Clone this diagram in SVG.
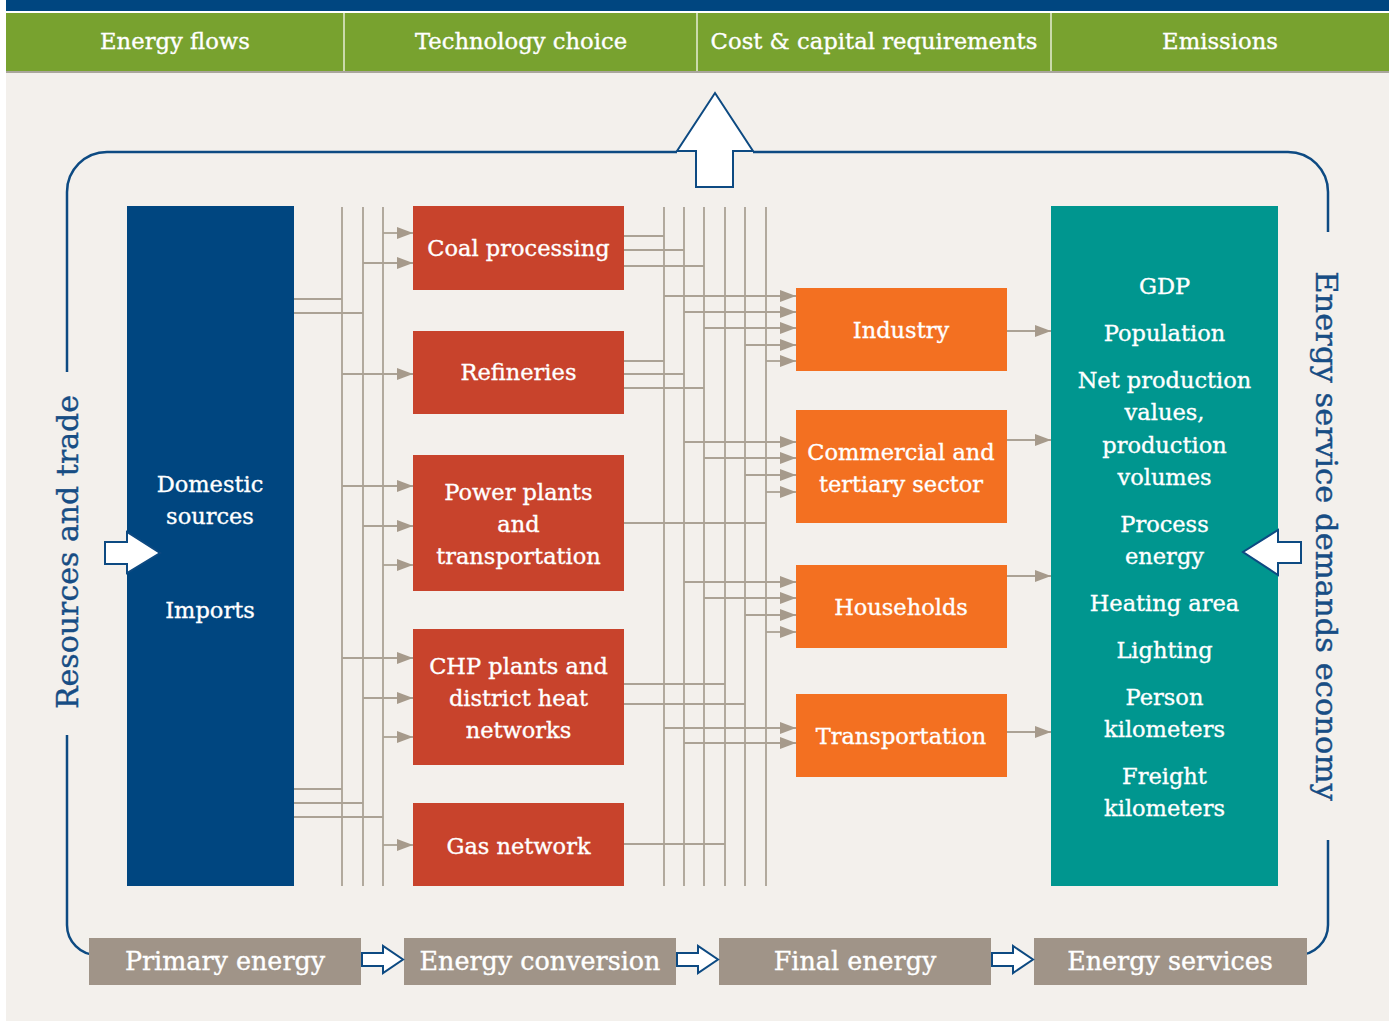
<svg xmlns="http://www.w3.org/2000/svg" width="1395" height="1021" viewBox="0 0 1395 1021">
  <style>
    .t { font-family: "DejaVu Serif", "Liberation Serif", serif; fill: #ffffff; stroke: #ffffff; stroke-width: 0.35; text-anchor: middle; }
    .hd { font-size: 22.7px; }
    .nd { font-size: 22.5px; }
    .ft { font-size: 25.4px; }
    .side { font-family: "DejaVu Serif", "Liberation Serif", serif; fill: #174d84; stroke: #174d84; stroke-width: 0.4; font-size: 30px; text-anchor: middle; }
    .bus { stroke: #aba295; stroke-width: 1.8; fill: none; }
    .arr { stroke: #aba295; stroke-width: 1.8; fill: none; marker-end: url(#head); }
    .frame { stroke: #0d4a82; stroke-width: 2.5; fill: none; }
    .wa { fill: #ffffff; stroke: #0d4a82; stroke-width: 2; stroke-linejoin: miter; }
  </style>
  <defs>
    <marker id="head" markerUnits="userSpaceOnUse" markerWidth="16" markerHeight="12" refX="16" refY="6" orient="auto">
      <path d="M0,0 L16,6 L0,12 Z" fill="#a69a8b"/>
    </marker>
  </defs>

  <!-- page -->
  <rect x="0" y="0" width="1395" height="1021" fill="#ffffff"/>
  <rect x="6" y="72" width="1383" height="949" fill="#f3f0ec"/>

  <!-- header bar -->
  <g id="header">
    <rect x="6" y="0" width="1383" height="11" fill="#004680"/>
    <rect x="6" y="13" width="1383" height="59" fill="#78a22f"/>
    <rect x="6" y="71" width="1383" height="2" fill="#a9a69c"/>
    <g stroke="#e6ecd6" stroke-width="1.5">
      <line x1="344" y1="13" x2="344" y2="71"/>
      <line x1="697" y1="13" x2="697" y2="71"/>
      <line x1="1051" y1="13" x2="1051" y2="71"/>
    </g>
    <text class="t hd" x="175" y="49">Energy flows</text>
    <text class="t hd" x="521" y="49">Technology choice</text>
    <text class="t hd" x="874" y="49">Cost &amp; capital requirements</text>
    <text class="t hd" x="1220" y="49">Emissions</text>
  </g>

  <!-- surrounding frame -->
  <g id="frame">
    <path class="frame" d="M67,372 V192 A40,40 0 0 1 107,152 H677"/>
    <path class="frame" d="M753,152 H1288 A40,40 0 0 1 1328,192 V232"/>
    <path class="frame" d="M1328,840 V925 A30,30 0 0 1 1298,955 H1307"/>
    <path class="frame" d="M67,735 V925 A30,30 0 0 0 97,955 H90"/>
    <polygon class="wa" points="715,93 753,151 733,151 733,187 696,187 696,151 677,151"/>
    <text class="side" transform="translate(78,552) rotate(-90)">Resources and trade</text>
    <text class="side" transform="translate(1316,536) rotate(90)" style="font-size:30.6px">Energy service demands economy</text>
  </g>

  <!-- connectors -->
  <g id="connectors">
    <!-- primary bus -->
    <path class="bus" d="M342,207 V886 M363,207 V886 M383,207 V886"/>
    <path class="bus" d="M294,299 H342 M294,313 H363 M294,789 H342 M294,803 H363 M294,817 H383"/>
    <path class="arr" d="M383,233 H413"/>
    <path class="arr" d="M363,263 H413"/>
    <path class="arr" d="M342,374 H413"/>
    <path class="arr" d="M342,486 H413"/>
    <path class="arr" d="M363,526 H413"/>
    <path class="arr" d="M383,565 H413"/>
    <path class="arr" d="M342,658 H413"/>
    <path class="arr" d="M363,698 H413"/>
    <path class="arr" d="M383,737 H413"/>
    <path class="arr" d="M383,845 H413"/>
    <!-- final energy bus -->
    <path class="bus" d="M664,207 V886 M684,207 V886 M704,207 V886 M725,207 V886 M745,207 V886 M766,207 V886"/>
    <path class="bus" d="M624,236 H664 M624,250 H684 M624,266 H704 M624,361 H664 M624,374 H684 M624,388 H704 M624,523 H766 M624,684 H725 M624,704 H745 M624,844 H725"/>
    <path class="arr" d="M664,296 H796"/>
    <path class="arr" d="M684,312 H796"/>
    <path class="arr" d="M704,328 H796"/>
    <path class="arr" d="M745,345 H796"/>
    <path class="arr" d="M766,361 H796"/>
    <path class="arr" d="M684,442 H796"/>
    <path class="arr" d="M704,458 H796"/>
    <path class="arr" d="M745,475 H796"/>
    <path class="arr" d="M766,492 H796"/>
    <path class="arr" d="M684,582 H796"/>
    <path class="arr" d="M704,598 H796"/>
    <path class="arr" d="M745,615 H796"/>
    <path class="arr" d="M766,632 H796"/>
    <path class="arr" d="M664,728 H796"/>
    <path class="arr" d="M684,743 H796"/>
    <!-- to energy services -->
    <path class="arr" d="M1006,331 H1051"/>
    <path class="arr" d="M1006,440 H1051"/>
    <path class="arr" d="M1006,576 H1051"/>
    <path class="arr" d="M1006,732 H1051"/>
  </g>

  <!-- primary energy -->
  <g id="primary">
    <rect x="127" y="206" width="167" height="680" fill="#004680"/>
    <text class="t nd" x="210" y="492">Domestic</text>
    <text class="t nd" x="210" y="524">sources</text>
    <text class="t nd" x="210" y="618">Imports</text>
  </g>
  <polygon class="wa" points="105,542 127,542 127,532 160,553 127,573 127,564 105,564"/>

  <!-- conversion -->
  <g id="coal">
    <rect x="413" y="206" width="211" height="84" fill="#c8432c"/>
    <text class="t nd" x="518.5" y="256">Coal processing</text>
  </g>
  <g id="refineries">
    <rect x="413" y="331" width="211" height="83" fill="#c8432c"/>
    <text class="t nd" x="518.5" y="380">Refineries</text>
  </g>
  <g id="power">
    <rect x="413" y="455" width="211" height="136" fill="#c8432c"/>
    <text class="t nd" x="518.5" y="500">Power plants</text>
    <text class="t nd" x="518.5" y="532">and</text>
    <text class="t nd" x="518.5" y="564">transportation</text>
  </g>
  <g id="chp">
    <rect x="413" y="629" width="211" height="136" fill="#c8432c"/>
    <text class="t nd" x="518.5" y="674">CHP plants and</text>
    <text class="t nd" x="518.5" y="706">district heat</text>
    <text class="t nd" x="518.5" y="738">networks</text>
  </g>
  <g id="gas">
    <rect x="413" y="803" width="211" height="83" fill="#c8432c"/>
    <text class="t nd" x="518.5" y="854">Gas network</text>
  </g>

  <!-- final energy -->
  <g id="industry">
    <rect x="796" y="288" width="211" height="83" fill="#f37021"/>
    <text class="t nd" x="901" y="338">Industry</text>
  </g>
  <g id="commercial">
    <rect x="796" y="410" width="211" height="113" fill="#f37021"/>
    <text class="t nd" x="901" y="460">Commercial and</text>
    <text class="t nd" x="901" y="492">tertiary sector</text>
  </g>
  <g id="households">
    <rect x="796" y="565" width="211" height="83" fill="#f37021"/>
    <text class="t nd" x="901" y="615">Households</text>
  </g>
  <g id="transport">
    <rect x="796" y="694" width="211" height="83" fill="#f37021"/>
    <text class="t nd" x="901" y="744">Transportation</text>
  </g>

  <!-- energy services -->
  <g id="services">
    <rect x="1051" y="206" width="227" height="680" fill="#00968f"/>
    <text class="t nd" x="1164.5" y="294">GDP</text>
    <text class="t nd" x="1164.5" y="341">Population</text>
    <text class="t nd" x="1164.5" y="388">Net production</text>
    <text class="t nd" x="1164.5" y="420">values,</text>
    <text class="t nd" x="1164.5" y="453">production</text>
    <text class="t nd" x="1164.5" y="485">volumes</text>
    <text class="t nd" x="1164.5" y="532">Process</text>
    <text class="t nd" x="1164.5" y="564">energy</text>
    <text class="t nd" x="1164.5" y="611">Heating area</text>
    <text class="t nd" x="1164.5" y="658">Lighting</text>
    <text class="t nd" x="1164.5" y="705">Person</text>
    <text class="t nd" x="1164.5" y="737">kilometers</text>
    <text class="t nd" x="1164.5" y="784">Freight</text>
    <text class="t nd" x="1164.5" y="816">kilometers</text>
  </g>
  <polygon class="wa" points="1301,542 1278,542 1278,530 1243,552 1278,575 1278,563 1301,563"/>

  <!-- stage bar -->
  <g id="stages">
    <rect x="89" y="938" width="272" height="47" fill="#a09488"/>
    <rect x="404" y="938" width="272" height="47" fill="#a09488"/>
    <rect x="719" y="938" width="272" height="47" fill="#a09488"/>
    <rect x="1034" y="938" width="273" height="47" fill="#a09488"/>
    <text class="t ft" x="225" y="970">Primary energy</text>
    <text class="t ft" x="540" y="970">Energy conversion</text>
    <text class="t ft" x="855" y="970">Final energy</text>
    <text class="t ft" x="1170" y="970">Energy services</text>
    <polygon class="wa" points="362,953 383,953 383,946 403,959.5 383,973 383,966 362,966"/>
    <polygon class="wa" points="677,953 698,953 698,946 718,959.5 698,973 698,966 677,966"/>
    <polygon class="wa" points="992,953 1013,953 1013,946 1033,959.5 1013,973 1013,966 992,966"/>
  </g>
</svg>
